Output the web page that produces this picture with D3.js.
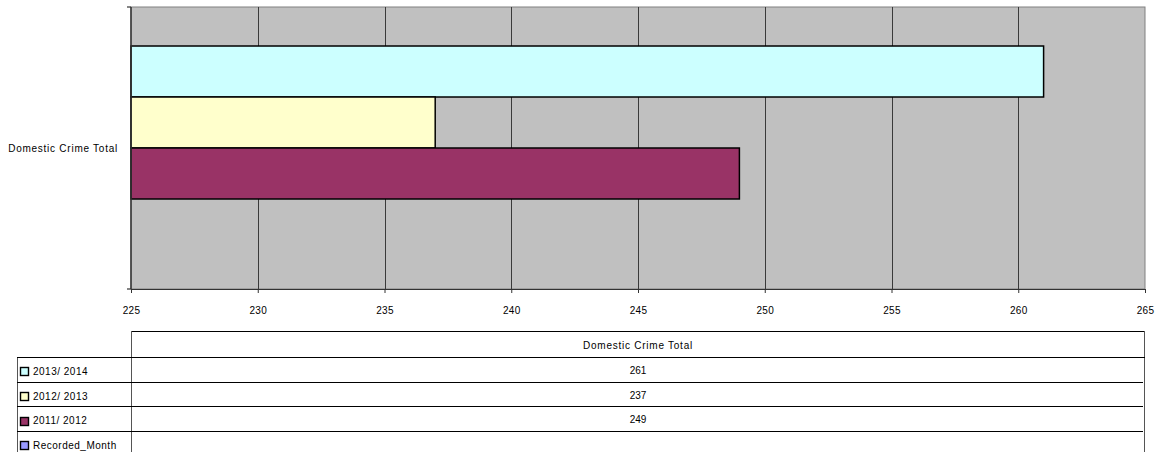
<!DOCTYPE html>
<html><head><meta charset="utf-8">
<script src="https://cdn.jsdelivr.net/npm/d3@7"></script>
<style>body{margin:0;background:#fff}svg{display:block}text{font-family:"Liberation Sans",Arial,sans-serif;fill:#000}</style>
</head><body><svg id="c" width="1159" height="452"></svg>
<script>
const categories = ["Domestic Crime Total"];
const seriesNames = ["2013/ 2014", "2012/ 2013", "2011/ 2012", "Recorded_Month"];
const seriesValues = [261, 237, 249, null];
const seriesColors = ["#CCFFFF", "#FFFFCC", "#993366", "#9999FF"];
const xTicks = [225, 230, 235, 240, 245, 250, 255, 260, 265];

const svg = d3.select("#c");
const L = 131, R = 1145, T = 7, B = 289;
const x = d3.scaleLinear().domain([225, 265]).range([L, R]);
const yCat = d3.scaleBand().domain(categories).range([T, B]);
const ySer = d3.scaleBand().domain(seriesNames).range([0, yCat.bandwidth()]).paddingInner(0).paddingOuter(0.765);

// plot area
svg.append("rect").attr("x", L).attr("y", T).attr("width", R - L).attr("height", B - T)
  .attr("fill", "#C0C0C0").attr("stroke", "#808080").attr("stroke-width", 1);

// gridlines
svg.append("g").selectAll("line").data(xTicks.slice(1, -1)).join("line")
  .attr("x1", d => Math.round(x(d)) + 0.5).attr("x2", d => Math.round(x(d)) + 0.5)
  .attr("y1", T).attr("y2", B).attr("stroke", "#3a3a3a").attr("stroke-width", 1);

// bars
const g = svg.append("g");
categories.forEach(cat => {
  seriesNames.forEach((s, i) => {
    const v = seriesValues[i];
    if (v == null) return;
    g.append("rect")
      .attr("x", x(225)).attr("y", yCat(cat) + ySer(s))
      .attr("width", x(v) - x(225)).attr("height", ySer.bandwidth())
      .attr("fill", seriesColors[i]).attr("stroke", "#000").attr("stroke-width", 1.5);
  });
});

// x axis
const xAxis = d3.axisBottom(x).tickValues(xTicks).tickSize(4).tickSizeOuter(0).tickFormat(d3.format("d"));
const xa = svg.append("g").attr("transform", `translate(0,${B})`).call(xAxis);
xa.select(".domain").attr("stroke", "#333").attr("stroke-width", 1.2);
xa.selectAll(".tick line").attr("stroke", "#333");
xa.selectAll("text").attr("dy", 0).attr("y", 25).attr("font-size", 10)
  .style("font-family", '"Liberation Sans",Arial,sans-serif').style("letter-spacing", "0.2px");

// y axis
svg.append("line").attr("x1", L).attr("x2", L).attr("y1", T).attr("y2", B).attr("stroke", "#333").attr("stroke-width", 1.5);
[T, B].forEach(yy => svg.append("line").attr("x1", L - 4).attr("x2", L).attr("y1", yy).attr("y2", yy).attr("stroke", "#333").attr("stroke-width", 1.2));
categories.forEach(cat => {
  svg.append("text").attr("x", L - 13).attr("y", yCat(cat) + yCat.bandwidth() / 2).attr("dy", "0.35em")
    .attr("text-anchor", "end").attr("font-size", 10).style("letter-spacing", "0.75px").text(cat);
});

// data table
const tHeadTop = 331, tHeadBot = 357, rowH = 24.7, tLeft = 17;
const tg = svg.append("g").attr("stroke", "#000").attr("stroke-width", 1);
tg.append("line").attr("x1", L).attr("x2", R).attr("y1", tHeadTop + 0.5).attr("y2", tHeadTop + 0.5);
tg.append("line").attr("x1", L + 0.5).attr("x2", L + 0.5).attr("y1", tHeadTop).attr("y2", 452).attr("stroke", "#555");
tg.append("line").attr("x1", R - 0.5).attr("x2", R - 0.5).attr("y1", tHeadTop).attr("y2", 452).attr("stroke", "#555");
tg.append("line").attr("x1", tLeft + 0.5).attr("x2", tLeft + 0.5).attr("y1", tHeadBot).attr("y2", 452).attr("stroke", "#555");
tg.append("line").attr("x1", tLeft).attr("x2", R).attr("y1", tHeadBot + 0.5).attr("y2", tHeadBot + 0.5);
categories.forEach(cat => {
  svg.append("text").attr("x", (L + R) / 2).attr("y", (tHeadTop + tHeadBot) / 2 + 1).attr("dy", "0.35em")
    .attr("text-anchor", "middle").attr("font-size", 10).style("letter-spacing", "0.75px").text(cat);
});
seriesNames.forEach((s, i) => {
  const top = tHeadBot + i * rowH;
  const bot = top + rowH;
  if (i < seriesNames.length - 1)
    tg.append("line").attr("x1", tLeft).attr("x2", R - 2).attr("y1", Math.round(bot) + 0.5).attr("y2", Math.round(bot) + 0.5);
  const cy = (top + bot) / 2 + 2;
  svg.append("rect").attr("x", 20.5).attr("y", Math.round(cy - 4) + 0.5).attr("width", 8).attr("height", 8)
    .attr("fill", seriesColors[i]).attr("stroke", "#000").attr("stroke-width", 1.4);
  svg.append("text").attr("x", 33).attr("y", cy).attr("dy", "0.35em").attr("font-size", 10)
    .style("letter-spacing", "0.5px").text(s);
  if (seriesValues[i] != null)
    svg.append("text").attr("x", (L + R) / 2).attr("y", cy - 1).attr("dy", "0.35em")
      .attr("text-anchor", "middle").attr("font-size", 10).text(seriesValues[i]);
});
</script></body></html>
